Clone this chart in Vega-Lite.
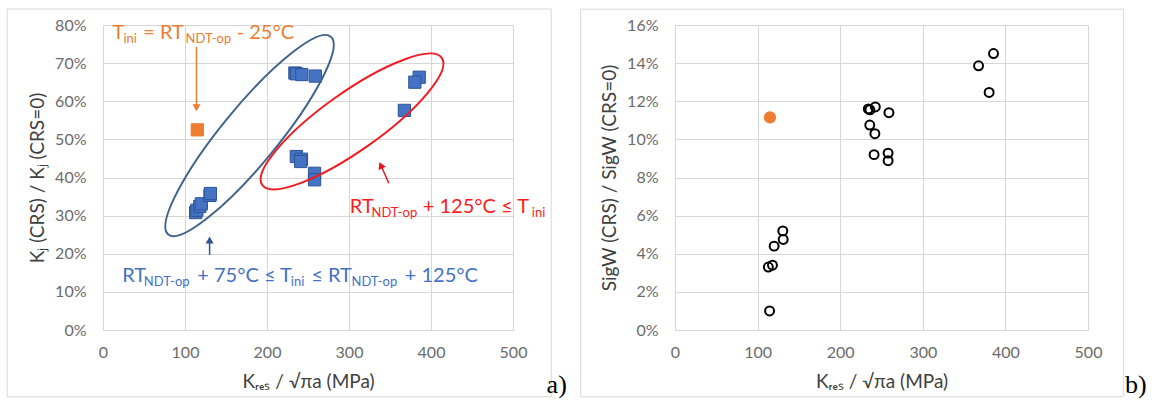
{
  "$schema": "https://vega.github.io/schema/vega-lite/v6.json",
  "background": "white",
  "padding": {"left": 6, "top": 8, "right": 0, "bottom": 0},
  "spacing": 13,
  "datasets": {
    "kjRatio": [
      {"k": 113, "v": 30.8, "g": "b"},
      {"k": 114.5, "v": 31.4, "g": "b"},
      {"k": 118, "v": 32.4, "g": "b"},
      {"k": 120, "v": 33.1, "g": "b"},
      {"k": 130.5, "v": 35.3, "g": "b"},
      {"k": 131, "v": 35.8, "g": "b"},
      {"k": 234, "v": 67.4, "g": "b"},
      {"k": 236, "v": 67.2, "g": "b"},
      {"k": 235.8, "v": 45.5, "g": "b"},
      {"k": 242.5, "v": 67.0, "g": "b"},
      {"k": 242, "v": 44.8, "g": "b"},
      {"k": 241, "v": 44.2, "g": "b"},
      {"k": 259, "v": 66.6, "g": "b"},
      {"k": 258, "v": 41.1, "g": "b"},
      {"k": 258, "v": 39.4, "g": "b"},
      {"k": 367.5, "v": 57.6, "g": "b"},
      {"k": 385.6, "v": 66.3, "g": "b"},
      {"k": 380.3, "v": 65.0, "g": "b"},
      {"k": 115, "v": 52.5, "g": "o"}
    ],
    "sigwRatio": [
      {"k": 113, "v": 3.3, "g": "b"},
      {"k": 114.5, "v": 1.0, "g": "b"},
      {"k": 118, "v": 3.4, "g": "b"},
      {"k": 120, "v": 4.4, "g": "b"},
      {"k": 130.5, "v": 5.2, "g": "b"},
      {"k": 131, "v": 4.75, "g": "b"},
      {"k": 234, "v": 11.6, "g": "b"},
      {"k": 236, "v": 11.55, "g": "b"},
      {"k": 235.8, "v": 10.75, "g": "b"},
      {"k": 242.5, "v": 11.7, "g": "b"},
      {"k": 242, "v": 10.3, "g": "b"},
      {"k": 241, "v": 9.2, "g": "b"},
      {"k": 259, "v": 11.4, "g": "b"},
      {"k": 258, "v": 9.28, "g": "b"},
      {"k": 258, "v": 8.88, "g": "b"},
      {"k": 367.5, "v": 13.86, "g": "b"},
      {"k": 385.6, "v": 14.5, "g": "b"},
      {"k": 380.3, "v": 12.46, "g": "b"},
      {"k": 115, "v": 11.15, "g": "o"}
    ],
    "frames": [
      {"p": "a", "k": -116.8, "k2": 546.6, "v": 84.2, "v2": -17.5},
      {"p": "b", "k": -114.2, "k2": 543.2, "v": 16.83, "v2": -3.5}
    ],
    "rings": [
      {"e": "blue", "k": 178.7, "v": 51.0},
      {"e": "red", "k": 303.7, "v": 54.7}
    ],
    "arrows": [
      {"a": "o", "k": 114, "v": 74.3, "k2": 114, "v2": 59.0},
      {"a": "b", "k": 130, "v": 19.7, "k2": 130, "v2": 23.3},
      {"a": "r", "k": 348.5, "v": 38.5, "k2": 339.3, "v2": 43.0}
    ],
    "heads": [
      {"a": "o", "k": 114, "v": 58.3},
      {"a": "b", "k": 130, "v": 23.6},
      {"a": "r", "k": 338.8, "v": 43.2}
    ],
    "notes": [
      {"t": "T", "k": 11.6, "v": 76.3, "s": "m", "c": "o"},
      {"t": "ini", "k": 25, "v": 76.3, "s": "s", "c": "o"},
      {"t": "= RT", "k": 49, "v": 76.3, "s": "m", "c": "o"},
      {"t": "NDT-op", "k": 100.6, "v": 76.3, "s": "s", "c": "o"},
      {"t": "- 25°C", "k": 163, "v": 76.3, "s": "m", "c": "o"},
      {"t": "RT", "k": 301, "v": 30.6, "s": "m", "c": "r"},
      {"t": "NDT-op", "k": 327.4, "v": 30.6, "s": "s", "c": "r"},
      {"t": "+ 125°C ≤ T", "k": 390, "v": 30.6, "s": "m", "c": "r"},
      {"t": "ini", "k": 523, "v": 30.6, "s": "s", "c": "r"},
      {"t": "RT", "k": 23.4, "v": 12.7, "s": "m", "c": "b"},
      {"t": "NDT-op", "k": 49.8, "v": 12.7, "s": "s", "c": "b"},
      {"t": "+ 75°C ≤ T", "k": 114.9, "v": 12.7, "s": "m", "c": "b"},
      {"t": "ini", "k": 229, "v": 12.7, "s": "s", "c": "b"},
      {"t": "≤ RT", "k": 254, "v": 12.7, "s": "m", "c": "b"},
      {"t": "NDT-op", "k": 303, "v": 12.7, "s": "s", "c": "b"},
      {"t": "+ 125°C", "k": 368, "v": 12.7, "s": "m", "c": "b"}
    ],
    "tags": [
      {"p": "a", "t": "a)", "k": 541, "v": -16.5},
      {"p": "b", "t": "b)", "k": 544.8, "v": -3.3}
    ]
  },
  "config": {
    "view": {"stroke": null},
    "font": "Lato",
    "axis": {
      "domain": false,
      "ticks": false,
      "labelFlush": false,
      "gridColor": "#d6d6d6",
      "gridWidth": 1,
      "labelFont": "Lato",
      "labelFontSize": 16,
      "labelColor": "#6b6b6b",
      "titleFont": "Lato",
      "titleFontSize": 19,
      "titleFontWeight": "normal",
      "titleColor": "#404040"
    },
    "axisX": {"labelPadding": 14, "titlePadding": 12},
    "axisY": {"labelPadding": 17, "titlePadding": 7}
  },
  "hconcat": [
    {
      "width": 410,
      "height": 305,
      "encoding": {
        "x": {
          "field": "k", "type": "quantitative",
          "scale": {"domain": [0, 500], "nice": false, "zero": false},
          "axis": {"values": [0, 100, 200, 300, 400, 500], "title": "Kᵣₑₛ / √πa (MPa)"}
        },
        "y": {
          "field": "v", "type": "quantitative",
          "scale": {"domain": [0, 80], "nice": false, "zero": false},
          "axis": {"values": [0, 10, 20, 30, 40, 50, 60, 70, 80], "labelExpr": "datum.value + '%'", "title": "Kⱼ (CRS) / Kⱼ (CRS=0)"}
        }
      },
      "layer": [
        {
          "data": {"name": "frames"},
          "transform": [{"filter": "datum.p == 'a'"}],
          "mark": {"type": "rect", "filled": false, "stroke": "#d9d9d9", "strokeWidth": 1, "clip": false},
          "encoding": {"x2": {"field": "k2"}, "y2": {"field": "v2"}}
        },
        {
          "data": {"name": "kjRatio"},
          "mark": {"type": "square", "size": 150, "opacity": 1, "strokeWidth": 1},
          "encoding": {
            "color": {"field": "g", "type": "nominal", "scale": {"domain": ["b", "o", "r"], "range": ["#4472c4", "#ed7d31", "#ff1a1a"]}, "legend": null},
            "stroke": {"field": "g", "type": "nominal", "scale": {"domain": ["b", "o", "r"], "range": ["#2f5597", "#ed7d31", "#e8141c"]}, "legend": null}
          }
        },
        {
          "data": {"name": "rings"},
          "transform": [{"filter": "datum.e == 'blue'"}],
          "mark": {
            "type": "point",
            "shape": "M-1,0C-1,-0.121,-0.552,-0.219,0,-0.219C0.552,-0.219,1,-0.121,1,0C1,0.121,0.552,0.219,0,0.219C-0.552,0.219,-1,0.121,-1,0Z",
            "size": 65536, "angle": -50.6, "filled": false, "stroke": "#41648a", "strokeWidth": 2, "opacity": 1
          }
        },
        {
          "data": {"name": "rings"},
          "transform": [{"filter": "datum.e == 'red'"}],
          "mark": {
            "type": "point",
            "shape": "M-1,0C-1,-0.146,-0.552,-0.264,0,-0.264C0.552,-0.264,1,-0.146,1,0C1,0.146,0.552,0.264,0,0.264C-0.552,0.264,-1,0.146,-1,0Z",
            "size": 48400, "angle": -35.3, "filled": false, "stroke": "#f01c24", "strokeWidth": 2, "opacity": 1
          }
        },
        {
          "data": {"name": "arrows"},
          "mark": {"type": "rule", "strokeWidth": 1.5},
          "encoding": {
            "x2": {"field": "k2"},
            "y2": {"field": "v2"},
            "stroke": {"field": "a", "type": "nominal", "scale": {"domain": ["b", "o", "r"], "range": ["#2f5597", "#ed7d31", "#e8141c"]}, "legend": null}
          }
        },
        {
          "data": {"name": "heads"},
          "transform": [{"filter": "datum.a == 'o'"}],
          "mark": {"type": "point", "shape": "triangle-down", "size": 64, "filled": true, "fill": "#ed7d31", "strokeWidth": 0, "opacity": 1}
        },
        {
          "data": {"name": "heads"},
          "transform": [{"filter": "datum.a == 'b'"}],
          "mark": {"type": "point", "shape": "triangle-up", "size": 64, "filled": true, "fill": "#2f5597", "strokeWidth": 0, "opacity": 1}
        },
        {
          "data": {"name": "heads"},
          "transform": [{"filter": "datum.a == 'r'"}],
          "mark": {"type": "point", "shape": "triangle-up", "size": 64, "angle": -24, "filled": true, "fill": "#e8141c", "strokeWidth": 0, "opacity": 1}
        },
        {
          "data": {"name": "notes"},
          "transform": [{"filter": "datum.s == 'm'"}],
          "mark": {"type": "text", "font": "Lato", "fontSize": 20, "align": "left", "baseline": "alphabetic"},
          "encoding": {
            "text": {"field": "t"},
            "color": {"field": "c", "type": "nominal", "scale": {"domain": ["b", "o", "r"], "range": ["#4472c4", "#ed7d31", "#ff1a1a"]}, "legend": null}
          }
        },
        {
          "data": {"name": "notes"},
          "transform": [{"filter": "datum.s == 's'"}],
          "mark": {"type": "text", "font": "Lato", "fontSize": 13, "align": "left", "baseline": "alphabetic", "dy": 4},
          "encoding": {
            "text": {"field": "t"},
            "color": {"field": "c", "type": "nominal", "scale": {"domain": ["b", "o", "r"], "range": ["#4472c4", "#ed7d31", "#ff1a1a"]}, "legend": null}
          }
        },
        {
          "data": {"name": "tags"},
          "transform": [{"filter": "datum.p == 'a'"}],
          "mark": {"type": "text", "font": "Liberation Serif", "fontSize": 26, "align": "left", "baseline": "alphabetic", "color": "#000000"},
          "encoding": {"text": {"field": "t"}}
        }
      ]
    },
    {
      "width": 413,
      "height": 305,
      "encoding": {
        "x": {
          "field": "k", "type": "quantitative",
          "scale": {"domain": [0, 500], "nice": false, "zero": false},
          "axis": {"values": [0, 100, 200, 300, 400, 500], "title": "Kᵣₑₛ / √πa (MPa)"}
        },
        "y": {
          "field": "v", "type": "quantitative",
          "scale": {"domain": [0, 16], "nice": false, "zero": false},
          "axis": {"values": [0, 2, 4, 6, 8, 10, 12, 14, 16], "labelExpr": "datum.value + '%'", "title": "SigW (CRS) / SigW (CRS=0)"}
        }
      },
      "layer": [
        {
          "data": {"name": "frames"},
          "transform": [{"filter": "datum.p == 'b'"}],
          "mark": {"type": "rect", "filled": false, "stroke": "#d9d9d9", "strokeWidth": 1, "clip": false},
          "encoding": {"x2": {"field": "k2"}, "y2": {"field": "v2"}}
        },
        {
          "data": {"name": "sigwRatio"},
          "transform": [{"filter": "datum.g == 'b'"}],
          "mark": {"type": "point", "shape": "circle", "size": 80, "filled": false, "stroke": "#000000", "strokeWidth": 2, "opacity": 1}
        },
        {
          "data": {"name": "sigwRatio"},
          "transform": [{"filter": "datum.g == 'o'"}],
          "mark": {"type": "point", "shape": "circle", "size": 150, "filled": true, "fill": "#ed7d31", "strokeWidth": 0, "opacity": 1}
        },
        {
          "data": {"name": "tags"},
          "transform": [{"filter": "datum.p == 'b'"}],
          "mark": {"type": "text", "font": "Liberation Serif", "fontSize": 26, "align": "left", "baseline": "alphabetic", "color": "#000000"},
          "encoding": {"text": {"field": "t"}}
        }
      ]
    }
  ]
}
